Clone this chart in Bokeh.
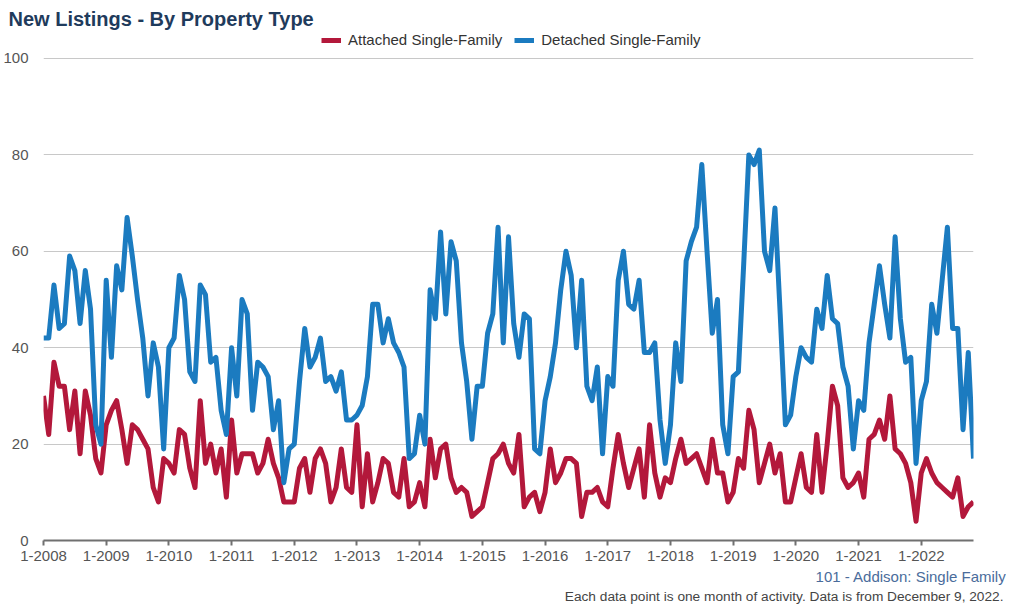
from bokeh.plotting import figure
from bokeh.models import Range1d, FixedTicker, Legend, LegendItem, Title
from bokeh.embed import file_html
from bokeh.resources import INLINE

# Monthly data, Jan 2008 .. Nov 2022
months = list(range(179))

attached = [
    30, 22, 37, 32, 32, 23, 31, 18, 31, 26, 17, 14,
    24, 27, 29, 23, 16, 24, 23, 21, 19, 11, 8, 17,
    16, 14, 23, 22, 15, 11, 29, 16, 20, 14, 19, 9,
    25, 14, 18, 18, 18, 14, 16, 21, 16, 13, 8, 8,
    8, 15, 17, 10, 17, 19, 16, 8, 11, 19, 11, 10,
    24, 7, 18, 8, 12, 17, 16, 10, 9, 17, 7, 8,
    12, 7, 21, 13, 19, 20, 13, 10, 11, 10, 5, 6,
    7, 12, 17, 18, 20, 16, 14, 22, 7, 9, 10, 6,
    10, 19, 12, 14, 17, 17, 16, 5, 10, 10, 11, 8,
    7, 15, 22, 16, 11, 15, 19, 9, 24, 14, 9, 13,
    12, 17, 21, 16, 17, 18, 15, 12, 21, 14, 14, 8,
    10, 17, 15, 27, 23, 12, 16, 20, 14, 18, 8, 8,
    13, 18, 11, 10, 22, 10, 20, 32, 28, 13, 11, 12,
    14, 9, 21, 22, 25, 21, 30, 19, 18, 16, 12, 4,
    14, 17, 14, 12, 11, 10, 9, 13, 5, 7, 8,
]

detached = [
    42, 42, 53, 44, 45, 59, 56, 45, 56, 48, 24, 20,
    54, 38, 57, 52, 67, 59, 50, 42, 30, 41, 36, 19,
    40, 42, 55, 50, 35, 33, 53, 51, 37, 38, 27, 22,
    40, 30, 50, 47, 27, 37, 36, 34, 23, 29, 12, 19,
    20, 33, 44, 36, 38, 42, 33, 34, 31, 35, 25, 25,
    26, 28, 34, 49, 49, 41, 46, 41, 39, 36, 17, 18,
    26, 20, 52, 46, 64, 47, 62, 58, 41, 33, 21, 32,
    32, 43, 47, 65, 41, 63, 45, 38, 47, 46, 19, 18,
    29, 34, 41, 52, 60, 55, 40, 54, 32, 29, 36, 18,
    34, 32, 54, 60, 49, 48, 54, 39, 39, 41, 25, 16,
    24, 41, 33, 58, 62, 65, 78, 60, 43, 50, 24, 18,
    34, 35, 57, 80, 78, 81, 60, 56, 69, 47, 24, 26,
    34, 40, 38, 37, 48, 44, 55, 46, 45, 36, 32, 19,
    29, 27, 41, 49, 57, 49, 42, 63, 46, 37, 38, 16,
    29, 33, 49, 43, 54, 65, 44, 44, 23, 39, 17,
]

years = list(range(2008, 2023))
tick_pos = [12 * (y - 2008) for y in years]
tick_labels = ["1-%d" % y for y in years]
y_ticks = [0, 20, 40, 60, 80, 100]

series_names = ["Attached Single-Family", "Detached Single-Family"]
series_colors = ["#b3183b", "#1b7bc0"]

title_text = "New Listings - By Property Type"
footer_1 = "101 - Addison: Single Family"
footer_2 = "Each data point is one month of activity. Data is from December 9, 2022."

FONT = "Liberation Sans"
FRAME_H = 509          # frame from page y 31 to 540
Y_TOP = 105.6          # headroom above 100 holds the legend

p = figure(width=1006, height=606, output_backend="svg", toolbar_location=None,
           x_range=Range1d(0, 178), y_range=Range1d(0, Y_TOP),
           min_border_left=35, min_border_right=33, min_border_top=31,
           min_border_bottom=66)
p.outline_line_color = None

# title (above panel)
p.title.text = title_text
p.title.text_font = FONT
p.title.text_font_size = "20px"
p.title.text_font_style = "bold"
p.title.text_color = "#1f3b5c"
p.title.align = "left"
p.title.offset = -35
p.title.standoff = 4

r1 = p.line(months, attached, line_color=series_colors[0], line_width=5,
            line_join="round")
r2 = p.line(months, detached, line_color=series_colors[1], line_width=5,
            line_join="round")

xa = p.xaxis[0]
xa.ticker = FixedTicker(ticks=tick_pos)
xa.major_label_overrides = {t: l for t, l in zip(tick_pos, tick_labels)}
xa.axis_line_color = "#707070"
xa.axis_line_width = 2
xa.major_tick_line_color = "#707070"
xa.major_tick_line_width = 2
xa.major_tick_out = 5
xa.major_tick_in = 0
xa.minor_tick_line_color = None
xa.major_label_standoff = 5
xa.major_label_text_font = FONT
xa.major_label_text_font_size = "15px"
xa.major_label_text_color = "#555555"

ya = p.yaxis[0]
ya.ticker = FixedTicker(ticks=y_ticks)
ya.axis_line_color = None
ya.major_tick_line_color = None
ya.minor_tick_line_color = None
ya.major_label_standoff = 9
ya.major_label_text_font = FONT
ya.major_label_text_font_size = "15px"
ya.major_label_text_color = "#555555"

p.xgrid.visible = False
p.ygrid.ticker = FixedTicker(ticks=y_ticks)
p.ygrid.grid_line_color = "#c8c8c8"
p.ygrid.grid_line_width = 1

legend = Legend(items=[LegendItem(label=series_names[0], renderers=[r1]),
                       LegendItem(label=series_names[1], renderers=[r2])],
                orientation="horizontal", location=(278, FRAME_H - 17),
                glyph_width=20, glyph_height=16, label_standoff=7, spacing=12,
                padding=0, margin=0, border_line_color=None,
                background_fill_alpha=0,
                label_text_font=FONT, label_text_font_size="15px",
                label_text_color="#333333", label_height=17)
p.add_layout(legend, "center")

p.add_layout(Title(text=footer_1, text_font=FONT, text_font_size="15px",
                   text_font_style="normal", text_color="#4a6c9b",
                   align="right", offset=-33, standoff=4), "below")
p.add_layout(Title(text=footer_2, text_font=FONT, text_font_size="13.7px",
                   text_font_style="normal", text_color="#444444",
                   align="right", offset=-30, standoff=1), "below")

open("out.html", "w").write(file_html(p, INLINE))
